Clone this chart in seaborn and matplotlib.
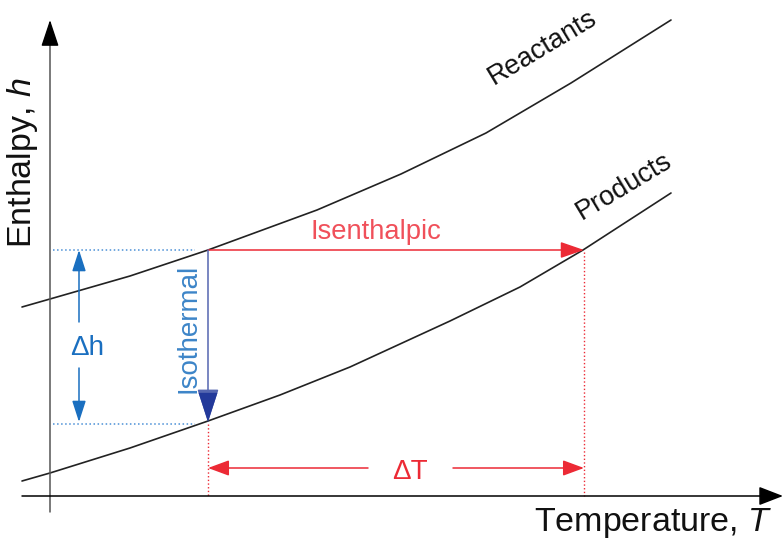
import matplotlib
matplotlib.use("Agg")
import matplotlib.pyplot as plt
import seaborn as sns
import pandas as pd

# curve read-off, in pixel-like coordinates (y grows downward)
reactants_T = [22, 50, 130, 208, 317, 401, 486, 571, 671]
reactants_h = [307, 299, 276, 250, 210, 174, 133, 83, 20]
products_T = [22, 50, 130, 208, 280, 350, 450, 520, 583, 671]
products_h = [481, 473, 448, 421, 395, 367, 321, 287, 250, 193]

state_1 = (208, 250)   # reactants start
state_2 = (208, 422)   # isothermal end
state_3 = (584, 250)   # isenthalpic end
origin = (50, 496)

sns.set_theme(style="white")
plt.rcParams['font.family'] = ['Liberation Sans', 'DejaVu Sans']
plt.rcParams['mathtext.fontset'] = 'custom'
plt.rcParams['mathtext.rm'] = 'Liberation Sans'
plt.rcParams['mathtext.it'] = 'Liberation Sans:italic'

fig = plt.figure(figsize=(7.83, 5.42), dpi=100)
ax = fig.add_axes([0, 0, 1, 1])
ax.set_xlim(0, 783)
ax.set_ylim(542, 0)
ax.axis('off')

df = pd.concat([
    pd.DataFrame({'T': reactants_T, 'h': reactants_h, 'curve': 'Reactants'}),
    pd.DataFrame({'T': products_T, 'h': products_h, 'curve': 'Products'}),
])
sns.lineplot(data=df, x='T', y='h', units='curve', estimator=None, sort=False,
             color='#222222', lw=1.2, ax=ax, legend=False)

def arrow(tip, tail, color, lw, hl, hw, ms=10):
    ax.annotate('', xy=tip, xytext=tail,
                arrowprops=dict(arrowstyle=f'-|>,head_length={hl},head_width={hw}',
                                mutation_scale=ms, color=color, lw=lw,
                                shrinkA=0, shrinkB=0))

# axes with arrows
ax.plot([origin[0], origin[0]], [512, 40], color='#555555', lw=1.1)
arrow((origin[0], 20), (origin[0], 44), 'black', 1.0, 1.65, 0.55)
arrow((783, origin[1]), (22, origin[1]), 'black', 1.1, 1.5, 0.58)

# guide lines
red, blue = '#ec2a35', '#1a6fc0'
ax.plot([53, 195], [state_1[1], state_1[1]], ls=':', color='#4a8fd6', lw=1.1)
ax.plot([53, 195], [state_2[1] + 2, state_2[1] + 2], ls=':', color='#4a8fd6', lw=1.1)
ax.plot([state_2[0], state_2[0]], [state_2[1] + 2, origin[1]], ls=':', color=red, lw=1.0)
ax.plot([state_3[0], state_3[0]], [state_3[1] + 2, origin[1]], ls=':', color=red, lw=1.0)

# isenthalpic / isothermal
arrow(state_3, state_1, red, 1.1, 1.45, 0.5)
arrow(state_2, state_1, '#5566b0', 1.1, 2.1, 0.68)
ax.annotate('', xy=state_2, xytext=(state_2[0], state_2[1] - 29),
            arrowprops=dict(arrowstyle='-|>,head_length=2.1,head_width=0.68',
                            mutation_scale=10, color='#23399a', lw=0,
                            shrinkA=0, shrinkB=0))
ax.text(376, 232, 'Isenthalpic', color='#f0505a', fontsize=19.7, ha='center', va='center')
ax.text(188, 328, 'Isothermal', color='#3d85c8', fontsize=20, rotation=90,
        ha='center', va='center')

# delta h
dh_x = 79
arrow((dh_x, state_1[1]), (dh_x, 322), blue, 1.1, 1.3, 0.42)
arrow((dh_x, state_2[1]), (dh_x, 368), blue, 1.1, 1.3, 0.42)
ax.text(87, 348, 'Δh', color=blue, fontsize=20, ha='center', va='center')

# delta T
dT_y = 468
arrow((state_2[0], dT_y), (368, dT_y), red, 1.1, 1.3, 0.48)
arrow((state_3[0], dT_y), (453, dT_y), red, 1.1, 1.3, 0.48)
ax.text(410, 472, 'ΔT', color=red, fontsize=20, ha='center', va='center')

# labels
ax.text(22, 163, 'Enthalpy, $h$', fontsize=24.5, rotation=90,
        ha='center', va='center', color='#111111')
ax.text(772, 523, 'Temperature, $T$', fontsize=24.5, ha='right', va='center',
        color='#111111')
ax.text(542, 48, 'Reactants', fontsize=19.5, rotation=31, ha='center', va='center',
        color='#111111')
ax.text(624, 186, 'Products', fontsize=19.5, rotation=31, ha='center', va='center',
        color='#111111')

fig.savefig('out.png', dpi=100)
